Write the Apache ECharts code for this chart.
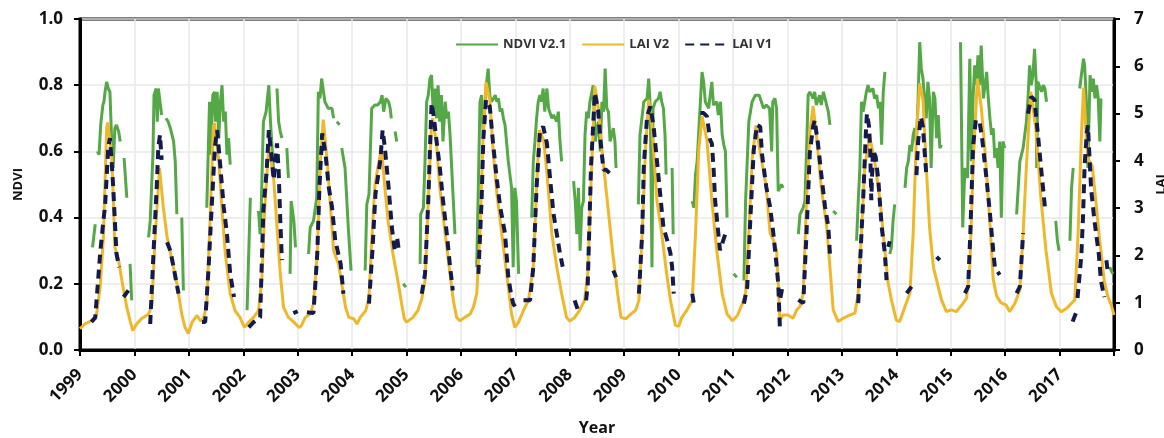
<!DOCTYPE html>
<html>
<head>
<meta charset="utf-8">
<script src="https://cdn.jsdelivr.net/npm/echarts@6/dist/echarts.min.js"></script>
<style>
  html, body { margin: 0; padding: 0; background: #ffffff; }
  #chart { width: 1164px; height: 438px; }
</style>
</head>
<body>
<div id="chart"></div>
<script>
// Year ticks shown on the horizontal axis
const yearTicks = [1999, 2000, 2001, 2002, 2003, 2004, 2005, 2006, 2007, 2008,
                   2009, 2010, 2011, 2012, 2013, 2014, 2015, 2016, 2017];

// NDVI V2.1 : [decimal year, NDVI]; null marks a break in the record
const ndviV21 = [
  [1999.23,0.31],[1999.28,0.38],null,
  [1999.32,0.60],[1999.35,0.59],[1999.38,0.68],[1999.42,0.74],[1999.44,0.75],[1999.46,0.78],[1999.49,0.81],[1999.52,0.79],[1999.55,0.78],[1999.58,0.64],[1999.61,0.55],[1999.64,0.67],[1999.67,0.68],[1999.71,0.66],[1999.74,0.63],null,
  [1999.81,0.58],[1999.86,0.46],null,[1999.92,0.26],[1999.95,0.15],null,
  [2000.26,0.34],[2000.29,0.39],[2000.34,0.59],[2000.36,0.77],[2000.40,0.79],[2000.42,0.69],[2000.44,0.79],[2000.47,0.75],[2000.50,0.71],null,
  [2000.58,0.70],[2000.62,0.69],[2000.66,0.67],[2000.72,0.63],[2000.75,0.57],[2000.78,0.41],null,[2000.87,0.40],[2000.90,0.18],null,
  [2001.33,0.43],[2001.38,0.75],[2001.40,0.59],[2001.44,0.77],[2001.47,0.78],[2001.49,0.69],[2001.52,0.78],[2001.55,0.64],[2001.58,0.75],[2001.61,0.80],[2001.64,0.69],[2001.67,0.72],[2001.70,0.59],null,[2001.73,0.64],[2001.76,0.56],null,
  [2002.07,0.12],[2002.13,0.46],null,
  [2002.28,0.42],[2002.31,0.35],[2002.33,0.43],[2002.37,0.69],[2002.42,0.72],[2002.45,0.77],[2002.47,0.80],[2002.50,0.69],[2002.56,0.53],null,
  [2002.62,0.79],[2002.65,0.69],[2002.68,0.66],[2002.71,0.64],null,[2002.80,0.61],[2002.83,0.52],null,
  [2002.86,0.23],[2002.88,0.45],[2002.93,0.39],[2002.96,0.31],null,
  [2003.20,0.29],[2003.23,0.37],[2003.29,0.39],[2003.35,0.46],[2003.38,0.78],[2003.41,0.76],[2003.44,0.82],[2003.50,0.75],[2003.56,0.73],[2003.63,0.73],[2003.66,0.70],null,
  [2003.72,0.69],[2003.77,0.68],null,[2003.81,0.61],[2003.87,0.55],[2003.93,0.37],[2003.98,0.24],null,
  [2004.24,0.24],[2004.27,0.44],[2004.31,0.47],[2004.36,0.73],[2004.42,0.74],[2004.47,0.74],[2004.52,0.75],[2004.55,0.77],[2004.58,0.72],[2004.62,0.76],[2004.67,0.75],[2004.70,0.73],[2004.72,0.70],null,
  [2004.79,0.66],[2004.82,0.63],null,[2004.94,0.20],[2004.99,0.19],null,
  [2005.25,0.26],[2005.26,0.41],[2005.31,0.43],[2005.34,0.57],[2005.37,0.75],[2005.40,0.77],[2005.43,0.82],[2005.46,0.83],[2005.49,0.72],[2005.52,0.79],[2005.55,0.70],[2005.58,0.80],[2005.61,0.69],[2005.64,0.77],[2005.67,0.63],[2005.71,0.75],[2005.74,0.70],[2005.77,0.72],[2005.80,0.65],[2005.83,0.55],[2005.86,0.45],[2005.89,0.35],null,
  [2006.29,0.25],[2006.32,0.50],[2006.35,0.75],[2006.38,0.77],[2006.41,0.65],[2006.46,0.79],[2006.50,0.85],[2006.53,0.77],[2006.56,0.75],[2006.60,0.76],[2006.63,0.77],[2006.66,0.75],[2006.69,0.76],[2006.72,0.72],[2006.75,0.73],[2006.78,0.70],[2006.81,0.68],[2006.87,0.57],[2006.93,0.49],[2006.96,0.25],[2006.99,0.49],[2007.02,0.45],[2007.06,0.23],null,
  [2007.30,0.40],[2007.33,0.57],[2007.36,0.63],[2007.39,0.70],[2007.42,0.75],[2007.45,0.77],[2007.48,0.75],[2007.51,0.79],[2007.54,0.72],[2007.58,0.79],[2007.61,0.73],[2007.67,0.70],[2007.70,0.71],[2007.76,0.69],[2007.79,0.72],[2007.82,0.63],[2007.85,0.57],null,
  [2008.07,0.51],[2008.10,0.45],[2008.13,0.35],[2008.16,0.49],[2008.19,0.30],[2008.22,0.43],[2008.25,0.45],[2008.28,0.65],[2008.31,0.72],[2008.34,0.70],[2008.37,0.75],[2008.43,0.80],[2008.47,0.63],[2008.50,0.67],[2008.53,0.69],[2008.56,0.60],[2008.59,0.75],[2008.62,0.72],[2008.65,0.85],[2008.68,0.73],[2008.71,0.72],[2008.74,0.63],[2008.77,0.65],[2008.80,0.67],[2008.83,0.63],[2008.85,0.55],null,
  [2009.26,0.44],[2009.29,0.65],[2009.36,0.75],[2009.42,0.76],[2009.45,0.82],[2009.48,0.73],[2009.51,0.25],[2009.53,0.73],[2009.57,0.75],[2009.63,0.76],[2009.66,0.78],[2009.69,0.75],[2009.72,0.73],[2009.75,0.65],[2009.77,0.53],null,
  [2009.88,0.55],[2009.90,0.35],null,
  [2010.25,0.45],[2010.28,0.43],[2010.31,0.53],[2010.34,0.57],[2010.40,0.75],[2010.43,0.84],[2010.46,0.81],[2010.49,0.75],[2010.55,0.73],[2010.61,0.81],[2010.64,0.74],[2010.70,0.75],[2010.73,0.71],[2010.77,0.75],[2010.80,0.65],[2010.83,0.62],[2010.86,0.60],[2010.89,0.40],null,
  [2011.01,0.23],[2011.07,0.22],null,
  [2011.20,0.21],[2011.23,0.45],[2011.29,0.69],[2011.35,0.75],[2011.41,0.77],[2011.48,0.77],[2011.52,0.75],[2011.56,0.73],[2011.61,0.74],[2011.67,0.73],[2011.71,0.60],[2011.73,0.75],[2011.77,0.76],[2011.80,0.73],[2011.83,0.48],[2011.86,0.49],[2011.89,0.50],[2011.92,0.49],null,
  [2012.20,0.35],[2012.23,0.41],[2012.26,0.42],[2012.29,0.43],[2012.32,0.45],[2012.35,0.60],[2012.38,0.77],[2012.41,0.78],[2012.47,0.76],[2012.50,0.78],[2012.53,0.74],[2012.59,0.77],[2012.62,0.74],[2012.66,0.78],[2012.69,0.76],[2012.72,0.74],[2012.75,0.72],[2012.78,0.68],null,
  [2012.84,0.42],[2012.90,0.41],null,
  [2013.27,0.33],[2013.30,0.45],[2013.33,0.55],[2013.36,0.75],[2013.39,0.72],[2013.45,0.78],[2013.48,0.80],[2013.51,0.78],[2013.57,0.79],[2013.60,0.76],[2013.64,0.77],[2013.67,0.73],[2013.70,0.75],[2013.73,0.62],[2013.76,0.78],[2013.79,0.84],null,
  [2013.88,0.29],[2013.91,0.31],[2013.94,0.39],[2013.97,0.44],null,
  [2014.16,0.49],[2014.19,0.55],[2014.22,0.57],[2014.25,0.62],[2014.28,0.60],[2014.31,0.65],[2014.34,0.67],[2014.37,0.62],[2014.40,0.76],[2014.43,0.93],[2014.46,0.85],[2014.49,0.82],[2014.52,0.82],[2014.55,0.70],[2014.58,0.81],[2014.61,0.76],[2014.64,0.55],[2014.68,0.78],[2014.71,0.76],[2014.74,0.64],[2014.77,0.71],[2014.80,0.61],[2014.83,0.62],null,
  [2015.18,0.93],[2015.22,0.37],[2015.26,0.55],[2015.31,0.52],[2015.35,0.88],[2015.38,0.57],[2015.41,0.76],[2015.44,0.86],[2015.47,0.80],[2015.50,0.89],[2015.53,0.80],[2015.56,0.92],[2015.60,0.76],[2015.63,0.80],[2015.66,0.84],[2015.69,0.76],[2015.72,0.70],[2015.75,0.65],[2015.78,0.67],[2015.81,0.58],[2015.84,0.61],[2015.87,0.55],[2015.90,0.63],[2015.93,0.40],[2015.96,0.63],[2015.99,0.61],null,
  [2016.21,0.41],[2016.24,0.49],[2016.27,0.57],[2016.30,0.59],[2016.33,0.61],[2016.36,0.65],[2016.39,0.69],[2016.42,0.76],[2016.45,0.86],[2016.48,0.80],[2016.51,0.83],[2016.54,0.91],[2016.57,0.81],[2016.58,0.55],[2016.60,0.81],[2016.67,0.78],[2016.70,0.80],[2016.73,0.79],[2016.76,0.75],null,
  [2016.93,0.39],[2016.96,0.33],[2016.99,0.30],null,
  [2017.19,0.33],[2017.22,0.49],[2017.25,0.55],null,
  [2017.37,0.79],[2017.40,0.83],[2017.44,0.88],[2017.46,0.86],[2017.49,0.76],[2017.52,0.55],[2017.56,0.83],[2017.59,0.78],[2017.62,0.82],[2017.65,0.76],[2017.68,0.80],[2017.71,0.76],[2017.74,0.63],[2017.76,0.76],null,
  [2017.92,0.25],[2017.98,0.23]
];

// LAI V2 : [decimal year, LAI]
const laiV2 = [
  [1999.00,0.45],[1999.09,0.55],[1999.21,0.62],[1999.28,0.66],[1999.31,0.80],[1999.37,1.33],[1999.43,2.39],[1999.49,4.70],[1999.51,4.81],[1999.58,4.16],[1999.61,3.30],[1999.64,2.18],[1999.71,1.90],[1999.77,1.47],[1999.86,0.90],[1999.92,0.62],[1999.97,0.41],
  [2000.04,0.55],[2000.13,0.66],[2000.26,0.76],[2000.32,0.94],[2000.38,2.39],[2000.44,3.45],[2000.46,3.85],[2000.53,3.03],[2000.60,2.39],[2000.69,1.90],[2000.78,1.40],[2000.87,0.76],[2000.93,0.48],[2000.99,0.35],
  [2001.06,0.59],[2001.15,0.73],[2001.21,0.62],[2001.27,0.66],[2001.33,0.98],[2001.39,2.74],[2001.45,4.72],[2001.47,4.80],[2001.55,4.00],[2001.61,2.96],[2001.67,2.04],[2001.76,1.19],[2001.85,0.83],[2001.94,0.69],
  [2002.02,0.48],[2002.10,0.59],[2002.19,0.69],[2002.28,0.83],[2002.34,1.47],[2002.40,3.10],[2002.47,4.35],[2002.56,3.60],[2002.62,2.60],[2002.68,1.61],[2002.74,0.90],[2002.83,0.69],[2002.93,0.59],
  [2003.02,0.48],[2003.06,0.50],[2003.14,0.69],[2003.23,0.76],[2003.29,0.98],[2003.36,2.04],[2003.42,4.02],[2003.47,4.87],[2003.54,4.02],[2003.63,2.60],[2003.66,2.10],[2003.75,1.82],[2003.82,1.33],[2003.88,0.90],[2003.94,0.69],
  [2004.03,0.66],[2004.09,0.55],[2004.15,0.69],[2004.25,0.83],[2004.31,1.12],[2004.36,2.30],[2004.42,3.50],[2004.48,3.90],[2004.54,4.27],[2004.60,3.45],[2004.66,2.74],[2004.75,2.04],[2004.85,1.40],[2004.91,0.98],[2004.96,0.66],
  [2005.00,0.59],[2005.12,0.69],[2005.21,0.84],[2005.28,1.08],[2005.34,1.47],[2005.40,3.17],[2005.46,4.80],[2005.48,4.90],[2005.55,4.37],[2005.61,3.45],[2005.71,2.46],[2005.80,1.61],[2005.86,1.05],[2005.92,0.69],[2005.98,0.62],
  [2006.07,0.69],[2006.17,0.76],[2006.23,0.91],[2006.29,1.19],[2006.35,2.46],[2006.41,4.59],[2006.46,5.66],[2006.53,5.29],[2006.59,4.23],[2006.66,3.31],[2006.75,2.46],[2006.84,1.61],[2006.93,0.76],[2006.99,0.48],
  [2007.06,0.59],[2007.15,0.84],[2007.24,1.05],[2007.33,1.76],[2007.39,3.45],[2007.44,4.65],[2007.52,4.44],[2007.58,3.74],[2007.67,2.46],[2007.76,1.76],[2007.85,1.19],[2007.94,0.69],
  [2008.00,0.61],[2008.09,0.69],[2008.18,0.84],[2008.27,1.05],[2008.33,1.61],[2008.39,3.52],[2008.46,5.58],[2008.52,5.15],[2008.61,4.02],[2008.70,3.03],[2008.79,2.04],[2008.88,1.19],[2008.94,0.69],
  [2009.03,0.66],[2009.12,0.76],[2009.21,0.84],[2009.27,1.05],[2009.33,2.46],[2009.39,4.23],[2009.45,5.29],[2009.51,4.73],[2009.60,3.17],[2009.69,2.46],[2009.78,1.61],[2009.85,1.05],[2009.94,0.52],
  [2010.00,0.50],[2010.06,0.69],[2010.15,0.84],[2010.25,1.05],[2010.31,2.46],[2010.37,4.23],[2010.43,4.94],[2010.52,4.44],[2010.61,3.17],[2010.70,2.11],[2010.80,1.19],[2010.89,0.76],[2010.99,0.62],
  [2011.08,0.73],[2011.17,0.98],[2011.23,1.19],[2011.29,2.46],[2011.35,4.02],[2011.42,4.75],[2011.50,4.16],[2011.61,3.45],[2011.68,2.47],[2011.74,2.33],[2011.80,2.11],[2011.83,1.41],[2011.86,0.63],[2011.92,0.74],
  [2012.01,0.74],[2012.10,0.67],[2012.17,0.85],[2012.23,0.92],[2012.29,1.20],[2012.35,3.17],[2012.41,4.58],[2012.47,5.16],[2012.53,4.58],[2012.62,3.45],[2012.72,2.61],[2012.78,1.76],[2012.84,0.85],[2012.93,0.60],
  [2013.02,0.67],[2013.15,0.74],[2013.24,0.78],[2013.30,1.20],[2013.36,2.47],[2013.42,3.88],[2013.51,4.51],[2013.60,4.02],[2013.70,3.17],[2013.79,2.11],[2013.85,1.41],[2013.91,1.06],
  [2014.00,0.63],[2014.06,0.60],[2014.16,0.92],[2014.25,1.20],[2014.31,2.47],[2014.37,4.58],[2014.43,5.64],[2014.49,5.29],[2014.55,3.88],[2014.61,2.61],[2014.68,1.76],[2014.74,1.48],[2014.83,1.06],[2014.92,0.81],
  [2015.01,0.85],[2015.10,0.81],[2015.20,0.95],[2015.29,1.09],[2015.35,1.76],[2015.41,3.88],[2015.49,5.74],[2015.56,5.14],[2015.63,4.20],[2015.69,3.20],[2015.74,2.30],[2015.78,1.50],[2015.84,1.15],[2015.92,1.00],
  [2016.02,0.95],[2016.08,0.81],[2016.18,0.99],[2016.27,1.27],[2016.33,2.47],[2016.39,3.88],[2016.47,5.46],[2016.56,4.72],[2016.66,3.17],[2016.75,2.11],[2016.85,1.20],[2016.94,0.92],
  [2017.03,0.81],[2017.13,0.88],[2017.22,0.99],[2017.28,1.06],[2017.34,2.47],[2017.40,4.50],[2017.44,5.55],[2017.49,4.50],[2017.53,4.02],[2017.60,3.90],[2017.67,3.10],[2017.73,2.39],[2017.82,1.47],[2017.89,1.12],[2017.95,0.95],[2018.00,0.74]
];

// LAI V1 : [decimal year, LAI]; null marks a break in the record
const laiV1 = [
  [1999.21,0.59],[1999.28,0.69],[1999.37,2.04],[1999.43,2.74],[1999.46,3.03],[1999.52,4.30],[1999.55,4.48],[1999.58,4.02],[1999.61,3.45],[1999.64,2.74],[1999.67,2.04],[1999.72,1.75],null,
  [1999.80,1.12],[1999.89,1.26],null,
  [2000.29,0.55],[2000.35,2.04],[2000.41,3.45],[2000.44,4.30],[2000.47,4.55],[2000.50,4.02],null,
  [2000.60,2.28],[2000.66,2.10],[2000.72,1.75],[2000.81,1.19],null,
  [2001.24,0.59],[2001.30,0.59],[2001.36,1.68],[2001.42,3.03],[2001.48,4.30],[2001.52,4.65],[2001.58,3.87],[2001.64,3.03],[2001.70,2.46],[2001.76,1.61],[2001.83,1.12],null,
  [2002.10,0.48],[2002.19,0.59],[2002.31,0.69],[2002.37,2.96],[2002.43,3.80],[2002.47,4.65],[2002.50,4.30],[2002.56,3.60],[2002.62,4.37],[2002.65,3.80],[2002.68,2.74],[2002.71,1.90],null,
  [2002.92,0.78],[2003.00,0.82],null,
  [2003.17,0.80],[2003.29,0.78],[2003.36,2.04],[2003.40,3.45],[2003.45,4.58],[2003.51,4.16],[2003.57,3.45],[2003.63,3.03],[2003.69,2.32],[2003.79,1.82],[2003.84,1.19],null,
  [2004.31,0.98],[2004.37,2.04],[2004.43,3.31],[2004.52,4.02],[2004.56,4.65],[2004.60,4.30],[2004.67,3.45],[2004.73,2.60],[2004.79,2.04],null,
  [2004.83,2.35],[2004.86,2.10],null,
  [2005.28,1.19],[2005.34,1.61],[2005.40,3.17],[2005.43,4.23],[2005.46,5.22],[2005.50,4.94],[2005.55,4.44],[2005.61,3.88],[2005.67,3.17],[2005.74,2.46],[2005.80,1.76],[2005.83,1.47],[2005.85,1.26],null,
  [2006.32,1.61],[2006.38,3.17],[2006.41,4.44],[2006.46,5.29],[2006.53,5.15],[2006.59,4.37],[2006.66,3.60],[2006.72,3.03],[2006.81,2.46],[2006.87,1.54],[2006.92,1.19],[2006.96,0.98],[2007.02,0.87],null,
  [2007.15,1.05],[2007.27,1.05],[2007.33,1.76],[2007.39,3.45],[2007.45,4.59],[2007.51,4.73],[2007.58,4.37],[2007.64,3.60],[2007.70,2.89],[2007.76,2.46],[2007.82,2.04],[2007.87,1.76],null,
  [2008.09,1.05],[2008.15,0.84],null,
  [2008.30,1.05],[2008.33,1.40],[2008.39,3.88],[2008.46,5.44],[2008.52,5.08],[2008.58,4.23],[2008.62,3.81],[2008.67,3.81],[2008.73,3.74],null,
  [2008.80,1.68],[2008.85,1.54],null,
  [2009.27,1.19],[2009.33,2.46],[2009.36,3.88],[2009.42,4.94],[2009.48,5.15],[2009.54,4.73],[2009.60,4.02],[2009.66,3.31],[2009.72,2.60],[2009.79,2.32],[2009.85,2.04],[2009.88,1.76],[2009.91,1.19],null,
  [2010.25,1.19],[2010.28,0.98],null,
  [2010.40,5.01],[2010.46,5.01],[2010.52,4.94],[2010.58,4.44],[2010.61,4.37],[2010.64,3.88],[2010.67,3.17],[2010.73,2.46],[2010.76,2.11],[2010.80,2.25],[2010.86,2.46],null,
  [2011.20,0.98],[2011.26,1.33],[2011.32,2.82],[2011.38,4.23],[2011.44,4.76],[2011.50,4.72],[2011.53,4.16],[2011.61,3.45],[2011.68,3.03],[2011.74,2.47],[2011.79,1.90],[2011.83,1.41],[2011.86,0.49],null,
  [2011.87,1.10],[2011.91,1.35],null,
  [2012.20,1.06],[2012.29,0.99],[2012.35,2.47],[2012.41,4.16],[2012.47,4.72],[2012.50,4.86],[2012.56,4.37],[2012.62,3.73],[2012.69,3.03],[2012.75,2.61],[2012.78,2.04],null,
  [2013.30,0.99],[2013.33,1.76],[2013.39,3.17],[2013.44,4.58],[2013.46,5.00],[2013.50,4.72],[2013.52,4.23],[2013.54,3.17],[2013.57,4.23],[2013.62,4.09],[2013.67,3.59],[2013.73,2.61],[2013.79,2.04],[2013.82,1.48],null,
  [2013.85,2.18],[2013.88,2.30],null,
  [2014.19,1.20],[2014.28,1.34],null,
  [2014.37,3.70],[2014.40,4.40],[2014.45,4.93],[2014.49,4.72],[2014.52,4.20],[2014.55,3.73],null,
  [2014.74,1.97],[2014.80,1.90],null,
  [2015.26,1.20],[2015.32,1.34],[2015.36,2.47],[2015.41,4.30],[2015.46,4.86],[2015.53,4.83],[2015.58,4.44],[2015.66,3.59],[2015.72,2.89],[2015.78,2.11],[2015.81,1.76],[2015.84,1.69],[2015.90,1.59],null,
  [2016.21,1.20],[2016.27,1.34],[2016.33,2.47],null,
  [2016.42,5.00],[2016.48,5.36],[2016.54,5.29],[2016.60,4.58],[2016.67,3.73],[2016.73,3.03],null,
  [2017.24,0.60],[2017.30,0.78],null,
  [2017.33,1.10],[2017.40,2.00],[2017.43,2.80],[2017.46,3.90],[2017.50,4.60],[2017.52,4.75],[2017.58,3.40],[2017.64,2.74],[2017.72,2.04],[2017.76,1.47],[2017.82,1.12],null,
  [2017.86,1.90],[2017.89,1.60]
];

// A null entry becomes an empty value so the line breaks there
function withGaps(points) {
  return points.map(function (p, i) {
    return p === null ? [points[i - 1][0], null] : p;
  });
}

const axisFont = { fontFamily: 'Open Sans', fontWeight: 'bold', color: '#111' };

const chart = echarts.init(document.getElementById('chart'), null, { renderer: 'canvas' });

chart.setOption({
  animation: false,
  backgroundColor: '#ffffff',
  grid: {
    left: 80, right: 50, top: 19, bottom: 88,
    containLabel: false, outerBoundsMode: 'none',
    show: true, borderColor: '#000', borderWidth: 3, backgroundColor: 'transparent'
  },
  legend: {
    top: 33, left: 450,
    itemWidth: 42, itemHeight: 12, itemGap: 15,
    itemStyle: { opacity: 0 },
    textStyle: { fontFamily: 'Open Sans', fontWeight: 'bold', fontSize: 13, color: '#333' },
    data: ['NDVI V2.1', 'LAI V2', 'LAI V1']
  },
  xAxis: {
    type: 'value',
    min: 1999, max: 2018, interval: 1,
    name: 'Year', nameLocation: 'middle', nameGap: 70,
    nameTextStyle: Object.assign({ fontSize: 16 }, axisFont),
    axisLine: { show: true, lineStyle: { color: '#000', width: 3 } },
    axisTick: { show: true, length: 6, lineStyle: { color: '#000', width: 2 } },
    axisLabel: Object.assign({
      fontSize: 17, rotate: 45, margin: 22,
      formatter: function (v) { return yearTicks.indexOf(v) >= 0 ? String(v) : ''; }
    }, axisFont),
    splitLine: { show: true, lineStyle: { color: '#e8e8e8', width: 1.5 } }
  },
  yAxis: [
    {
      type: 'value', min: 0, max: 1, interval: 0.2,
      name: 'NDVI', nameLocation: 'middle', nameGap: 55, nameRotate: 90,
      nameTextStyle: Object.assign({ fontSize: 13 }, axisFont),
      axisLine: { show: true, lineStyle: { color: '#000', width: 3 } },
      axisTick: { show: true, length: 6, lineStyle: { color: '#000', width: 2 } },
      axisLabel: Object.assign({ fontSize: 17, margin: 17,
        formatter: function (v) { return v.toFixed(1); } }, axisFont),
      splitLine: { show: true, lineStyle: { color: '#e8e8e8', width: 1.5 } }
    },
    {
      type: 'value', min: 0, max: 7, interval: 1, position: 'right',
      name: 'LAI', nameLocation: 'middle', nameGap: 40, nameRotate: 90,
      nameTextStyle: Object.assign({ fontSize: 13 }, axisFont),
      axisLine: { show: true, lineStyle: { color: '#000', width: 3 } },
      axisTick: { show: true, length: 6, lineStyle: { color: '#000', width: 2 } },
      axisLabel: Object.assign({ fontSize: 17, margin: 20 }, axisFont),
      splitLine: { show: false }
    }
  ],
  series: [
    {
      name: 'NDVI V2.1', type: 'line', yAxisIndex: 0,
      data: withGaps(ndviV21), connectNulls: false,
      symbol: 'none', showSymbol: false,
      lineStyle: { color: '#55a846', width: 3 },
      itemStyle: { color: '#55a846' },
      z: 2
    },
    {
      name: 'LAI V2', type: 'line', yAxisIndex: 1,
      data: withGaps(laiV2), connectNulls: false,
      symbol: 'none', showSymbol: false,
      lineStyle: { color: '#f0b72a', width: 3 },
      itemStyle: { color: '#f0b72a' },
      z: 3
    },
    {
      name: 'LAI V1', type: 'line', yAxisIndex: 1,
      data: withGaps(laiV1), connectNulls: false,
      symbol: 'none', showSymbol: false,
      lineStyle: { color: '#151a4e', width: 4, type: [9, 6] },
      itemStyle: { color: '#151a4e' },
      z: 4
    }
  ]
});
</script>
</body>
</html>
